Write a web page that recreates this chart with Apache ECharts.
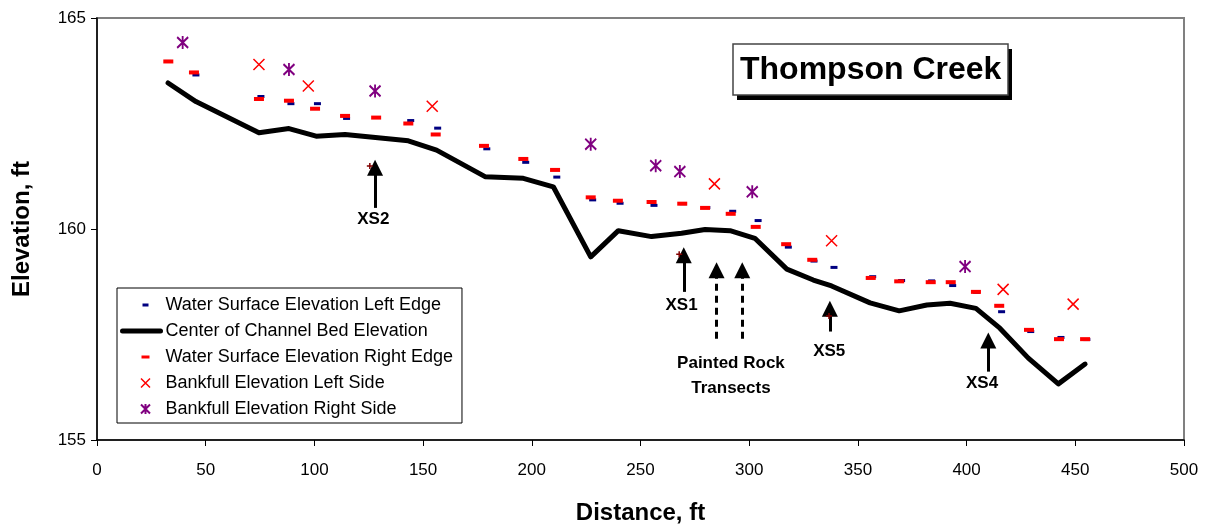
<!DOCTYPE html>
<html>
<head>
<meta charset="utf-8">
<title>Thompson Creek</title>
<script src="https://cdn.jsdelivr.net/npm/echarts@6/dist/echarts.min.js"></script>
<style>
  html, body { margin: 0; padding: 0; background: #fff; }
  #chart { width: 1209px; height: 527px; }
</style>
</head>
<body>
<div id="chart"></div>
<script>
// Channel bed profile (distance ft, elevation ft)
const bedX = [32.7, 45.5, 74.5, 88.3, 100.8, 114.1, 143.2, 156.2, 178.5, 196.1, 209.9, 227.1, 239.8, 255.1, 268.9,
  279.7, 291.2, 302.6, 317.3, 329.5, 337.9, 355.6, 369.0, 381.7, 392.4, 404.3, 415.3, 428.4, 442.2, 454.5];
const bedY = [163.46, 163.02, 162.28, 162.38, 162.20, 162.24, 162.09, 161.87, 161.24, 161.20, 161.00, 159.34, 159.96, 159.82, 159.90,
  159.99, 159.96, 159.78, 159.05, 158.79, 158.65, 158.25, 158.06, 158.20, 158.24, 158.12, 157.65, 156.94, 156.33, 156.80];

// Water surface, left edge
const wsLeftX = [32.8, 45.5, 75.4, 89.2, 101.4, 114.8, 144.3, 156.7, 179.3, 197.2, 211.5, 228.0, 240.6, 256.2, 269.6,
  280.5, 292.4, 304.1, 318.0, 329.8, 339.0, 356.8, 370.1, 383.9, 393.6, 404.6, 416.1, 429.5, 443.4, 455.3];
const wsLeftY = [163.97, 163.65, 163.14, 162.97, 162.97, 162.62, 162.57, 162.39, 161.90, 161.58, 161.23, 160.69, 160.61, 160.56, 160.60,
  160.51, 160.42, 160.20, 159.57, 159.24, 159.09, 158.87, 158.78, 158.77, 158.66, 158.50, 158.04, 157.57, 157.43, 157.38];

// Water surface, right edge
const wsRightX = [32.8, 44.6, 74.5, 88.3, 100.3, 114.1, 128.4, 143.2, 155.8, 178.0, 196.1, 210.7, 227.1, 239.6, 255.1,
  269.2, 279.7, 291.5, 303.0, 317.0, 329.0, 355.9, 369.0, 383.5, 392.7, 404.3, 415.0, 428.7, 442.5, 454.5];
const wsRightY = [163.97, 163.71, 163.08, 163.04, 162.85, 162.68, 162.64, 162.50, 162.24, 161.97, 161.66, 161.40, 160.75, 160.67, 160.64,
  160.60, 160.50, 160.36, 160.05, 159.64, 159.27, 158.84, 158.76, 158.74, 158.74, 158.51, 158.18, 157.61, 157.39, 157.39];

// Bankfull elevations
const bankLeftX = [74.5, 97.2, 154.2, 284.0, 337.9, 416.8, 449.0];
const bankLeftY = [163.90, 163.39, 162.91, 161.07, 159.72, 158.57, 158.22];
const bankRightX = [39.4, 88.3, 127.9, 227.1, 257.0, 268.1, 301.4, 399.3];
const bankRightY = [164.42, 163.78, 163.27, 162.01, 161.50, 161.36, 160.88, 159.11];

// cross-section survey points (mostly hidden under the arrows)
const xsX = [125.5, 267.8, 336.7];
const xsY = [161.49, 159.40, 157.94];

// arrow annotations
const arrowX = [127.9, 269.9, 285.0, 296.8, 337.1, 410.0];
const arrowBaseY = [160.50, 158.51, 157.40, 157.40, 157.57, 156.62];
const arrowHeadY = [161.45, 159.38, 159.02, 159.02, 158.11, 157.36];
const arrowDashed = [false, false, true, true, false, false];

const labelText = ['XS2', 'XS1', 'Painted Rock\nTransects', 'XS5', 'XS4'];
const labelX = [127.1, 268.9, 291.6, 336.8, 407.1];
const labelY = [160.23, 158.20, 156.52, 157.09, 156.34];

const seriesNames = [
  'Water Surface Elevation Left Edge',
  'Center of Channel Bed Elevation',
  'Water Surface Elevation Right Edge',
  'Bankfull Elevation Left Side',
  'Bankfull Elevation Right Side'
];

const zip = (xs, ys) => xs.map((x, i) => [x, ys[i]]);
const FONT = "'Liberation Sans', Arial, sans-serif";

const chart = echarts.init(document.getElementById('chart'), null, { renderer: 'canvas' });

const arrowLines = arrowX.map((x, i) => [
  { coord: [x, arrowBaseY[i]], lineStyle: { type: arrowDashed[i] ? [7, 5] : 'solid' } },
  { coord: [x, arrowHeadY[i]] }
]);

const option = {
  animation: false,
  backgroundColor: '#fff',
  textStyle: { fontFamily: FONT },
  title: {
    text: 'Thompson Creek',
    left: 733,
    top: 44,
    z: 10,
    padding: [10, 7, 9, 7],
    backgroundColor: '#fff',
    borderColor: '#444',
    borderWidth: 1.5,
    textStyle: { fontFamily: FONT, fontSize: 32, fontWeight: 'bold', color: '#000' }
  },
  // hard drop shadow behind the title box
  graphic: [{
    type: 'rect',
    z: 5,
    silent: true,
    shape: { x: 737, y: 49, width: 275, height: 51 },
    style: { fill: '#000' }
  }],
  legend: {
    orient: 'vertical',
    left: 117,
    top: 288,
    padding: [8, 9, 5, 3],
    itemWidth: 38,
    itemHeight: 14,
    itemGap: 8,
    backgroundColor: '#fff',
    borderColor: '#000',
    borderWidth: 1,
    borderRadius: 0,
    selectedMode: false,
    textStyle: { fontFamily: FONT, fontSize: 18, color: '#000' },
    data: [
      { name: seriesNames[0], icon: 'path://M0,0M38,14M20,5.5h6v3h-6z' },
      { name: seriesNames[1], itemStyle: { opacity: 0 }, lineStyle: { width: 5, color: '#000' } },
      { name: seriesNames[2], icon: 'path://M0,0M38,14M19,5.5h8v3h-8z' },
      { name: seriesNames[3], icon: 'path://M0,0M38,14M18.5,2.5L27.5,11.5M27.5,2.5L18.5,11.5', itemStyle: { borderWidth: 1.5 } },
      { name: seriesNames[4], icon: 'path://M0,0M38,14M18.5,2.5L27.5,11.5M27.5,2.5L18.5,11.5M23,2L23,12', itemStyle: { borderWidth: 2 } }
    ]
  },
  grid: {
    left: 97,
    right: 25,
    top: 18,
    bottom: 87,
    outerBoundsMode: 'none',
    show: true,
    borderColor: '#808080',
    borderWidth: 2
  },
  xAxis: {
    type: 'value',
    min: 0,
    max: 500,
    interval: 50,
    name: 'Distance, ft',
    nameLocation: 'middle',
    nameGap: 61,
    nameTextStyle: { fontFamily: FONT, fontSize: 24, fontWeight: 'bold', color: '#000' },
    axisLine: { show: true, lineStyle: { color: '#000', width: 1.5 } },
    axisTick: { show: true, length: 6, lineStyle: { color: '#000', width: 1 } },
    axisLabel: { fontFamily: FONT, fontSize: 17, color: '#000', margin: 22 },
    splitLine: { show: false }
  },
  yAxis: {
    type: 'value',
    min: 155,
    max: 165,
    interval: 5,
    name: 'Elevation, ft',
    nameLocation: 'middle',
    nameGap: 63,
    nameTextStyle: { fontFamily: FONT, fontSize: 24, fontWeight: 'bold', color: '#000' },
    axisLine: { show: true, lineStyle: { color: '#000', width: 1.5 } },
    axisTick: { show: true, length: 6, lineStyle: { color: '#000', width: 1 } },
    axisLabel: { fontFamily: FONT, fontSize: 17, color: '#000', margin: 11 },
    splitLine: { show: false }
  },
  series: [
    {
      name: seriesNames[0],
      type: 'scatter',
      symbol: 'rect',
      symbolSize: [7, 3],
      itemStyle: { color: '#000080', opacity: 1 },
      data: zip(wsLeftX, wsLeftY),
      z: 2
    },
    {
      name: seriesNames[1],
      type: 'line',
      symbol: 'none',
      lineStyle: { color: '#000', width: 5, join: 'round', cap: 'round' },
      itemStyle: { color: '#000' },
      data: zip(bedX, bedY),
      z: 3
    },
    {
      name: seriesNames[2],
      type: 'scatter',
      symbol: 'rect',
      symbolSize: [10, 4],
      itemStyle: { color: '#ff0000', opacity: 1 },
      data: zip(wsRightX, wsRightY),
      z: 4
    },
    {
      name: seriesNames[3],
      type: 'scatter',
      symbol: 'path://M0,0L10,10M10,0L0,10',
      symbolSize: 11,
      itemStyle: { color: 'rgba(0,0,0,0)', borderColor: '#ff0000', borderWidth: 1.5, opacity: 1 },
      data: zip(bankLeftX, bankLeftY),
      z: 5
    },
    {
      name: seriesNames[4],
      type: 'scatter',
      symbol: 'path://M0,1L10,11M10,1L0,11M5,0L5,12',
      symbolSize: [11, 13],
      itemStyle: { color: 'rgba(0,0,0,0)', borderColor: '#800080', borderWidth: 2, opacity: 1 },
      data: zip(bankRightX, bankRightY),
      z: 5
    },
    {
      name: 'Cross Sections',
      type: 'scatter',
      symbol: 'path://M0,3L6,3M3,0L3,6',
      symbolSize: 6,
      itemStyle: { color: 'rgba(0,0,0,0)', borderColor: '#800000', borderWidth: 1.5, opacity: 1 },
      data: zip(xsX, xsY),
      z: 5
    },
    {
      name: 'Annotations',
      type: 'scatter',
      symbolSize: 1,
      itemStyle: { color: 'rgba(0,0,0,0)', opacity: 1 },
      silent: true,
      label: {
        show: true,
        position: 'inside',
        formatter: p => p.name,
        fontFamily: FONT,
        fontSize: 17,
        fontWeight: 'bold',
        color: '#000',
        opacity: 1,
        textBorderWidth: 0,
        lineHeight: 25,
        align: 'center'
      },
      data: labelText.map((t, i) => ({ name: t, value: [labelX[i], labelY[i]] })),
      markLine: {
        silent: true,
        symbol: ['none', 'triangle'],
        symbolSize: 16,
        label: { show: false },
        lineStyle: { color: '#000', width: 3, type: 'solid', opacity: 1 },
        emphasis: { disabled: true },
        data: arrowLines
      },
      z: 6
    }
  ]
};

chart.setOption(option);
</script>
</body>
</html>
